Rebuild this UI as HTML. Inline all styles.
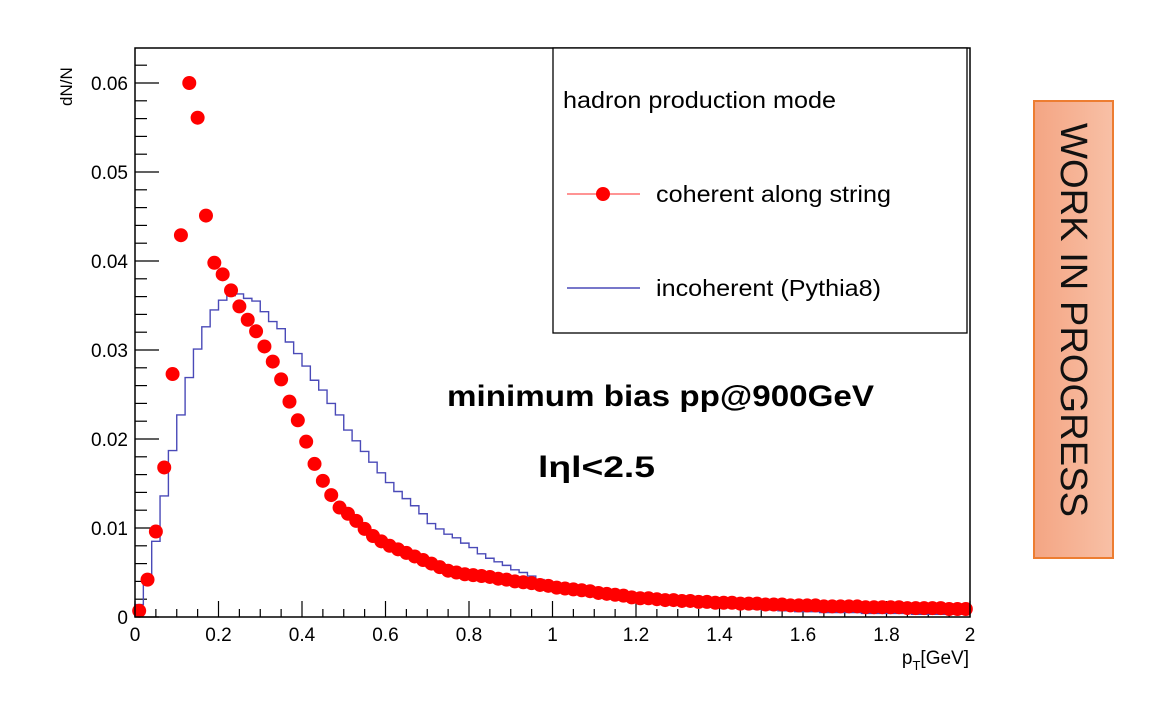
<!DOCTYPE html>
<html><head><meta charset="utf-8"><style>
html,body{margin:0;padding:0;background:#fff;}
svg{display:block;font-family:"Liberation Sans",sans-serif;}
</style></head><body>
<svg id="chart" width="1152" height="704" viewBox="0 0 1152 704">
  <g id="ticks"></g>
  <g id="blue"></g>
  <g id="red"></g>
  <rect x="135" y="48" width="835" height="569" fill="none" stroke="#000" stroke-width="1.5"/>
  <text x="0" y="0" transform="translate(72,106) rotate(-90)" font-size="17">dN/N</text>
  <text x="969" y="664" font-size="19" text-anchor="end">p<tspan font-size="13" dy="6">T</tspan><tspan dy="-6">[GeV]</tspan></text>
  <g>
    <rect x="553" y="48" width="414" height="285" fill="#fff" stroke="#000" stroke-width="1.3"/>
    <text x="563" y="108" font-size="23" textLength="273" lengthAdjust="spacingAndGlyphs">hadron production mode</text>
    <g>
      <line x1="567" y1="194" x2="640" y2="194" stroke="#f55" stroke-width="1.3"/>
      <circle cx="603" cy="194" r="7" fill="#f00"/>
      <text x="656" y="202" font-size="23" textLength="235" lengthAdjust="spacingAndGlyphs">coherent along string</text>
    </g>
    <g>
      <line x1="567" y1="288" x2="640" y2="288" stroke="#4a4ab8" stroke-width="1.5"/>
      <text x="656" y="296" font-size="23" textLength="225" lengthAdjust="spacingAndGlyphs">incoherent (Pythia8)</text>
    </g>
  </g>
  <text x="447" y="406" font-size="30" font-weight="bold" textLength="427" lengthAdjust="spacingAndGlyphs">minimum bias pp@900GeV</text>
  <text x="538" y="477" font-size="30" font-weight="bold" textLength="117" lengthAdjust="spacingAndGlyphs">lηl&lt;2.5</text>
  <defs><linearGradient id="wg" x1="0" x2="1" y1="0" y2="0"><stop offset="0" stop-color="#f4a583"/><stop offset="1" stop-color="#f8c0a6"/></linearGradient></defs>
  <g>
    <rect x="1034" y="101" width="79" height="457" fill="url(#wg)" stroke="#ed7d31" stroke-width="2"/>
    <text x="0" y="0" transform="translate(1061,123) rotate(90)" font-size="38" textLength="394" lengthAdjust="spacingAndGlyphs" fill="#111">WORK IN PROGRESS</text>
  </g>
</svg>
<script>
const binEdgesStart = 0, binWidth = 0.02;
const coherentValues = [0.0007,0.0042,0.0096,0.0168,0.0273,0.0429,0.060,0.0561,0.0451,0.0398,0.0385,0.0367,0.0349,0.0334,0.0321,0.0304,0.0287,0.0267,0.0242,0.0221,0.0197,0.0172,0.0153,0.0137,0.0123,0.0116,0.0108,0.0099,0.0091,0.0085,0.0080,0.0076,0.0072,0.0068,
0.0064,0.0060,0.0056,0.0052,0.0050,0.0048,0.0047,0.0046,0.0045,0.0043,0.0042,0.0040,0.0039,0.0038,0.0036,0.0035,
0.0033,0.0032,0.0031,0.0030,0.0029,0.0027,0.0026,0.0025,0.0024,0.0022,
0.0021,0.0021,0.0020,0.0019,0.0019,0.0018,0.0018,0.0017,0.0017,0.0016,
0.0016,0.0016,0.0015,0.0015,0.0015,0.0014,0.0014,0.0014,0.0013,0.0013,
0.0013,0.0013,0.0012,0.0012,0.0012,0.0012,0.0012,0.0011,0.0011,0.0011,
0.0011,0.0011,0.0010,0.0010,0.0010,0.0010,0.0010,0.0009,0.0009,0.0009];
const incoherentValues = [0.0014,0.0039,0.0085,0.0136,0.0187,0.0227,0.0269,0.0301,0.0326,0.0345,0.0356,0.0361,0.0363,0.0358,0.0355,0.0343,0.0332,0.0324,0.0309,0.0296,0.0282,0.0266,0.0255,0.0240,0.0227,0.0210,0.0198,0.0186,0.0174,0.0162,0.0151,0.0141,0.0133,0.0125,0.0116,0.0105,
0.0099,0.0093,0.0089,0.0083,0.0078,0.0071,0.0066,0.0062,0.0058,0.0053,0.0050,0.0046,0.0042,0.0039,
0.0036,0.0034,0.0032,0.0030,0.0028,0.0027,0.0025,0.0024,0.0023,0.0022,
0.0021,0.0020,0.0019,0.0018,0.0017,0.0016,0.0015,0.0014,0.0013,0.0012,
0.0012,0.0011,0.0010,0.0010,0.0009,0.0008,0.0008,0.0007,0.0007,0.0006,
0.0006,0.0006,0.0005,0.0005,0.0005,0.0005,0.0005,0.0004,0.0004,0.0004,
0.0004,0.0004,0.0004,0.0003,0.0003,0.0003,0.0003,0.0003,0.0003,0.0003];
const xTickLabels = ["0","0.2","0.4","0.6","0.8","1","1.2","1.4","1.6","1.8","2"];
const yTickLabels = ["0","0.01","0.02","0.03","0.04","0.05","0.06"];

const NS = "http://www.w3.org/2000/svg";
const X0=135, X1=970, Y0=617, Y1=83;
function xs(v){ return X0 + (v-0)/(2-0)*(X1-X0); }
function ys(v){ return Y0 - v/0.06*(Y0-Y1); }
function mk(tag, attrs, parent){ const e=document.createElementNS(NS,tag); for(const k in attrs) e.setAttribute(k,attrs[k]); parent.appendChild(e); return e; }

const tg = document.getElementById('ticks');
for(let i=0;i<=40;i++){
  const v=i*0.05, major = i%4===0, x=xs(v);
  const l = mk('line',{x1:x,x2:x,y1:Y0,y2:Y0-(major?16:8),stroke:'#000','stroke-width':1.2},tg);
  
  
}
xTickLabels.forEach((t,i)=>{
  const el = mk('text',{x:xs(parseFloat(t)),y:641,'font-size':19,'text-anchor':'middle'},tg);
  el.textContent=t;
  
  
});
for(let i=0;i<=32;i++){
  const v=i*0.002, major=i%5===0, y=ys(v);
  if(y<48) continue;
  const l = mk('line',{x1:X0,x2:X0+(major?24:12),y1:y,y2:y,stroke:'#000','stroke-width':1.2},tg);
  
  
}
yTickLabels.forEach((t)=>{
  const el = mk('text',{x:128,y:ys(parseFloat(t))+7,'font-size':19,'text-anchor':'end'},tg);
  el.textContent=t;
  
  
});

let d = 'M'+xs(binEdgesStart)+','+ys(0);
incoherentValues.forEach((v,i)=>{
  const a=xs(binEdgesStart+i*binWidth), b=xs(binEdgesStart+(i+1)*binWidth);
  d += ' L'+a+','+ys(v)+' L'+b+','+ys(v);
});
const hp = mk('path',{d:d,fill:'none',stroke:'#4a4ab8','stroke-width':1.4},document.getElementById('blue'));



const rg = document.getElementById('red');
coherentValues.forEach((v,i)=>{
  const c = mk('circle',{cx:xs(binEdgesStart+(i+0.5)*binWidth),cy:ys(v),r:7,fill:'#ff0000'},rg);
  
  
});
</script>
</body></html>
